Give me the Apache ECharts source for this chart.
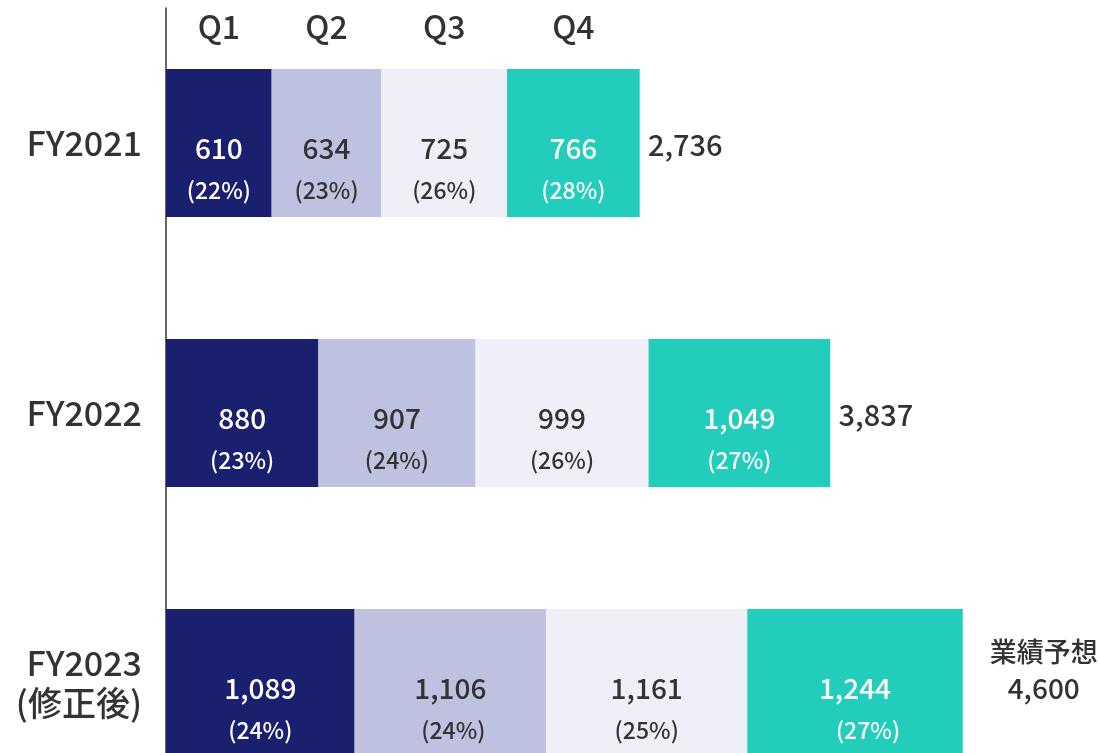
<!DOCTYPE html>
<html>
<head>
<meta charset="utf-8">
<script src="https://cdn.jsdelivr.net/npm/echarts@6/dist/echarts.min.js"></script>
<style>html,body{margin:0;padding:0;background:#fff}#c{width:1099px;height:753px}</style>
</head>
<body>
<div id="c"></div>
<script>
var categories = ['FY2021', 'FY2022', 'FY2023\n(修正後)'];
var quarters = ['Q1', 'Q2', 'Q3', 'Q4'];
var q1 = [610, 880, 1089];
var q2 = [634, 907, 1106];
var q3 = [725, 999, 1161];
var q4 = [766, 1049, 1244];
var pct1 = [22, 23, 24];
var pct2 = [23, 24, 24];
var pct3 = [26, 26, 25];
var pct4 = [28, 27, 27];
var totals = [2736, 3837, 4600];
var totalPrefix = ['', '', '業績予想'];

var values = [q1, q2, q3, q4];
var pcts = [pct1, pct2, pct3, pct4];
var colors = ['#1b206e', '#bec1df', '#efeff7', '#22cdbc'];
var textColors = ['#ffffff', '#333333', '#333333', '#ffffff'];
var FONT = '"Noto Sans CJK JP", "Noto Sans", sans-serif';
// small horizontal nudge of some percentage labels (style only)
var pctPad = { '1-2': 6, '3-2': 26 };

function fmt(v) { return v.toLocaleString('en-US'); }

var series = [];
for (var s = 0; s < 4; s++) {
  (function (s) {
    var start = 0;
    for (var k = 0; k < s; k++) start += values[k][0];
    series.push({
      name: quarters[s],
      type: 'bar',
      stack: 'q',
      barWidth: 148,
      itemStyle: { color: colors[s] },
      data: values[s],
      label: {
        show: true,
        position: 'inside',
        offset: [0, 26],
        fontFamily: FONT,
        formatter: function (p) {
          var key = s + '-' + p.dataIndex;
          var tag = pctPad[key] ? 'p' + pctPad[key] : 'p';
          return '{v|' + fmt(p.value) + '}\n{' + tag + '|(' + pcts[s][p.dataIndex] + '%)}';
        },
        rich: {
          v: { fontSize: 28, fontWeight: 500, color: textColors[s], lineHeight: 42, fontFamily: FONT },
          p: { fontSize: 23, fontWeight: 500, color: textColors[s], lineHeight: 42, fontFamily: FONT },
          p6: { fontSize: 23, fontWeight: 500, color: textColors[s], lineHeight: 42, fontFamily: FONT, padding: [0, 0, 0, 6] },
          p26: { fontSize: 23, fontWeight: 500, color: textColors[s], lineHeight: 42, fontFamily: FONT, padding: [0, 0, 0, 26] }
        }
      },
      markPoint: {
        symbol: 'rect',
        symbolSize: 1,
        itemStyle: { color: 'rgba(0,0,0,0)' },
        data: [{ coord: [start + values[s][0] / 2, categories[0]], value: quarters[s] }],
        label: {
          show: true,
          position: 'inside',
          offset: [0, -116],
          formatter: quarters[s],
          fontSize: 32,
          fontWeight: 500,
          color: '#333333',
          fontFamily: FONT
        }
      }
    });
  })(s);
}

series.push({
  name: 'total',
  type: 'bar',
  barWidth: 148,
  barGap: '-100%',
  z: 1,
  silent: true,
  itemStyle: { color: 'rgba(0,0,0,0)' },
  data: totals.map(function (t, i) {
    var item = { value: t };
    if (totalPrefix[i]) {
      item.label = {
        formatter: '{a|' + totalPrefix[i] + '}\n{b|' + fmt(t) + '}',
        distance: 81,
        align: 'center',
        offset: [0, -13]
      };
    }
    return item;
  }),
  label: {
    show: true,
    position: 'right',
    distance: 8,
    offset: [0, 2],
    fontSize: 29,
    fontWeight: 500,
    color: '#333333',
    fontFamily: FONT,
    formatter: function (p) { return fmt(p.value); },
    rich: {
      a: { fontSize: 27, fontWeight: 500, color: '#333333', lineHeight: 37, fontFamily: FONT },
      b: { fontSize: 28, fontWeight: 500, color: '#333333', lineHeight: 37, fontFamily: FONT }
    }
  }
});

var chart = echarts.init(document.getElementById('c'));
chart.setOption({
  animation: false,
  backgroundColor: '#ffffff',
  grid: { left: 166, top: 8, width: 866, height: 810, containLabel: false, outerBoundsMode: 'none' },
  xAxis: {
    type: 'value', min: 0, max: 5000,
    show: false
  },
  yAxis: {
    type: 'category',
    inverse: true,
    data: categories,
    axisLine: { show: true, lineStyle: { color: '#333333', width: 1.5 } },
    axisTick: { show: false },
    axisLabel: {
      margin: 24,
      fontSize: 34,
      fontWeight: 500,
      color: '#333333',
      lineHeight: 40,
      fontFamily: FONT
    }
  },
  series: series
});
</script>
</body>
</html>
